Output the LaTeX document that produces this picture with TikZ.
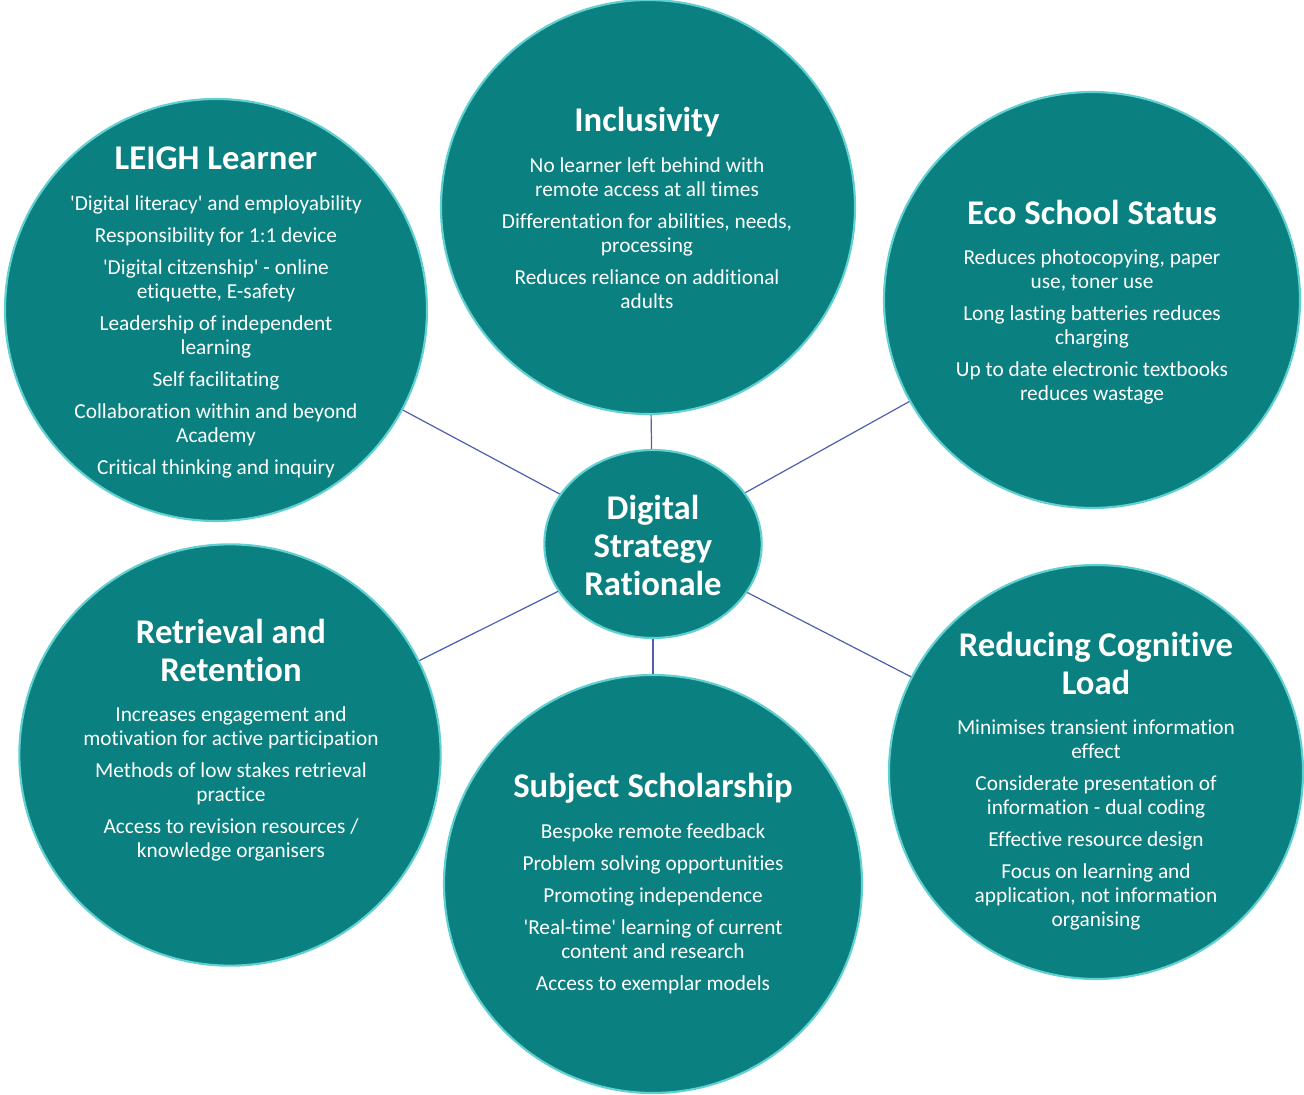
\documentclass[tikz,border=0pt]{standalone}
\usepackage{fontspec}
\setmainfont{Carlito}[Ligatures=NoCommon]
\usetikzlibrary{shapes.geometric}
\definecolor{tealfill}{HTML}{0A8080}
\definecolor{rim}{HTML}{62D0D0}
\definecolor{linkc}{HTML}{4D5FAE}
\newcommand{\sq}{\textquotesingle}
\begin{document}
\begin{tikzpicture}[x=0.75pt,y=-0.75pt,
  bubble/.style={circle,fill=tealfill,draw=rim,line width=1.6pt,inner sep=0pt},
  hub/.style={ellipse,fill=tealfill,draw=rim,line width=1.6pt,inner sep=0pt,minimum width=163pt,minimum height=141pt},
  ttl/.style={text=white,font=\bfseries\fontsize{26}{28.5}\selectfont,align=center,inner sep=0pt},
  body/.style={text=white,font=\fontsize{16}{18}\selectfont,align=center,inner sep=0pt,anchor=north},
  link/.style={draw=linkc,line width=0.9pt}]
\useasboundingbox (0,0) rectangle (1304,1095);
\fill[white] (0,0) rectangle (1304,1095);
% bubbles
\node[bubble,minimum size=316.5pt] (leigh) at (216,310) {};
\node[bubble,minimum size=310.5pt] (incl) at (648,207) {};
\node[bubble,minimum size=312pt] (eco) at (1092,300) {};
\node[bubble,minimum size=316pt] (retr) at (230,755) {};
\node[bubble,minimum size=313.5pt] (subj) at (653,884) {};
\node[bubble,minimum size=310.5pt] (redu) at (1096,772) {};
\node[hub] (hub) at (653,544) {};
% connectors
\draw[link] (hub) -- (leigh);
\draw[link] (hub) -- (incl);
\draw[link] (hub) -- (eco);
\draw[link] (hub) -- (retr);
\draw[link] (hub) -- (subj);
\draw[link] (hub) -- (redu);
% hub text
\node[ttl] (hubt) at (653,545) {Digital\\Strategy\\Rationale};
% LEIGH
\node[ttl] (leight) at (216,158) {LEIGH Learner};
\node[body] (leighb) at (216,195.5) {\sq Digital literacy\sq{} and employability\\[6pt]
Responsibility for 1:1 device\\[6pt]
\sq Digital citzenship\sq{} - online\\etiquette, E-safety\\[6pt]
Leadership of independent\\learning\\[6pt]
Self facilitating\\[6pt]
Collaboration within and beyond\\Academy\\[6pt]
Critical thinking and inquiry};
% Inclusivity
\node[ttl] (inclt) at (647,122) {Inclusivity};
\node[body] (inclb) at (647,157.5) {No learner left behind with\\remote access at all times\\[6pt]
Differentation for abilities, needs,\\processing\\[6pt]
Reduces reliance on additional\\adults};
% Eco
\node[ttl] (ecot) at (1092,212) {Eco School Status};
\node[body] (ecob) at (1092,249.5) {Reduces photocopying, paper\\use, toner use\\[6pt]
Long lasting batteries reduces\\charging\\[6pt]
Up to date electronic textbooks\\reduces wastage};
% Retrieval
\node[ttl] (retrt) at (231,650) {Retrieval and\\Retention};
\node[body] (retrb) at (231,706.5) {Increases engagement and\\motivation for active participation\\[6pt]
Methods of low stakes retrieval\\practice\\[6pt]
Access to revision resources /\\knowledge organisers};
% Subject
\node[ttl] (subjt) at (653,788) {Subject Scholarship};
\node[body] (subjb) at (653,823.5) {Bespoke remote feedback\\[6pt]
Problem solving opportunities\\[6pt]
Promoting independence\\[6pt]
\sq Real-time\sq{} learning of current\\content and research\\[6pt]
Access to exemplar models};
% Reducing
\node[ttl] (redut) at (1096,663) {Reducing Cognitive\\Load};
\node[body] (redub) at (1096,719.5) {Minimises transient information\\effect\\[6pt]
Considerate presentation of\\information - dual coding\\[6pt]
Effective resource design\\[6pt]
Focus on learning and\\application, not information\\organising};
\end{tikzpicture}
\end{document}
